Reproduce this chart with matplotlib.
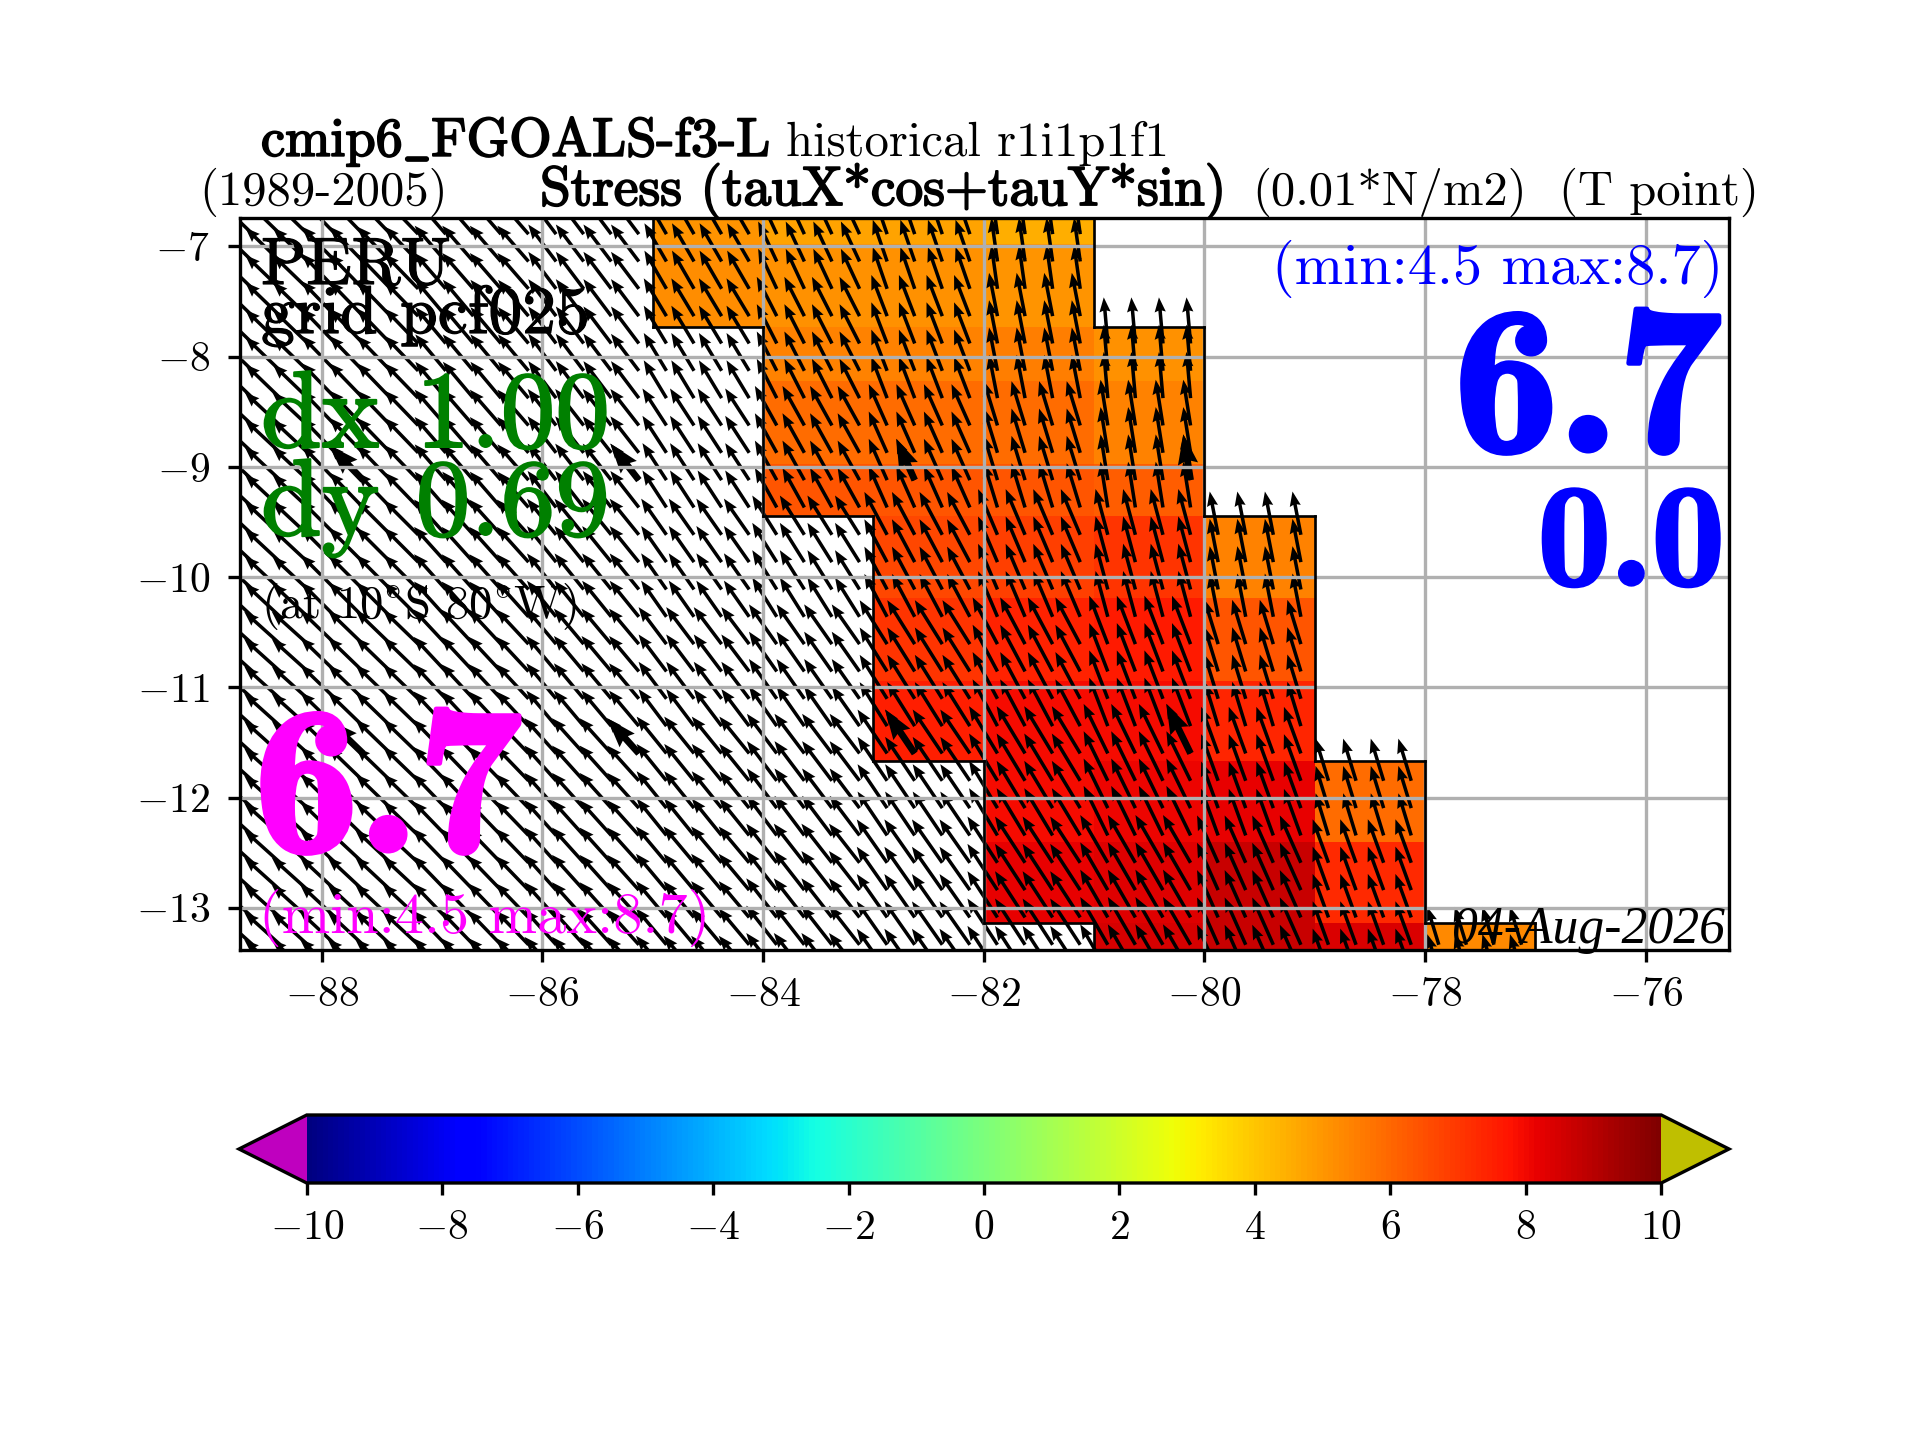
import numpy as np
import matplotlib
matplotlib.use("Agg")
import matplotlib.pyplot as plt
import matplotlib.patheffects as pe

plt.rcParams['font.family'] = ['cmr10', 'DejaVu Serif']
plt.rcParams['mathtext.fontset'] = 'cm'
plt.rcParams['axes.unicode_minus'] = False
plt.rcParams['axes.formatter.use_mathtext'] = True
plt.rcParams['axes.linewidth'] = 1.0
plt.rcParams['xtick.major.width'] = 1.0
plt.rcParams['ytick.major.width'] = 1.0

# shading cells (value in 0.01 N/m2); NaN = no data
col_edges = [-85, -84, -83, -82, -81, -80, -79, -78, -77]
row_edges = [-6.5, -6.98, -7.73, -8.22, -8.97, -9.45, -10.19, -10.94, -11.67, -12.40, -13.14, -13.6]
n = np.nan
stress = [
    [5.0, 4.7, 4.7, 4.5, n, n, n, n],
    [5.2, 5.1, 5.1, 5.0, n, n, n, n],
    [n, 5.45, 5.45, 5.5, 5.1, n, n, n],
    [n, 5.9, 5.9, 5.9, 5.45, n, n, n],
    [n, 6.4, 6.4, 6.4, 6.2, n, n, n],
    [n, n, 6.7, 6.8, 7.1, 5.4, n, n],
    [n, n, 7.1, 7.45, 7.6, 6.4, n, n],
    [n, n, 7.5, 7.9, 7.9, 7.4, n, n],
    [n, n, n, 7.95, 8.1, 8.2, 5.9, n],
    [n, n, n, 8.2, 8.3, 8.7, 7.3, n],
    [n, n, n, n, 8.45, 8.7, 8.4, 5.3],
]
# coast steps: top / bottom limit of the shaded part of each column
col_top = [-6.5, -6.5, -6.5, -6.5, -7.73, -9.45, -11.67, -13.14]
col_bottom = [-7.73, -9.45, -11.67, -13.14, -13.6, -13.6, -13.6, -13.6]

# arrow field: tilt west of north (degrees) and length (degrees), per 1-degree box
box_lon = [-89, -88, -87, -86, -85, -84, -83, -82, -81, -80, -79, -78, -77]
box_lat = [-6.0, -7.5, -8.5, -9.5, -10.5, -11.5, -12.5, -14.0]
tilt = [
    [46, 44, 41, 37, 30, 25, 19, 8, 4, n, n, n],
    [46, 44, 40, 37, 31, 27, 21, 11, 5, n, n, n],
    [47, 44, 41, 38, 33, 29, 24, 17, 9, n, n, n],
    [47, 45, 42, 39, 35, 32, 28, 23, 15, 11, n, n],
    [48, 46, 43, 40, 37, 35, 32, 28, 21, 17, n, n],
    [48, 46, 44, 42, 39, 37, 34, 31, 26, 20, 17, n],
    [48, 47, 44, 42, 40, 38, 35, 33, 30, 24, 20, 17],
]
length = [
    [.44, .44, .43, .42, .40, .40, .40, .40, .42, n, n, n],
    [.44, .44, .43, .42, .40, .40, .40, .40, .42, n, n, n],
    [.44, .44, .43, .42, .40, .41, .41, .42, .42, n, n, n],
    [.44, .44, .43, .42, .40, .42, .44, .45, .43, .40, n, n],
    [.44, .44, .43, .42, .42, .44, .47, .48, .47, .42, n, n],
    [.44, .44, .43, .43, .43, .45, .48, .50, .50, .45, .40, n],
    [.44, .44, .43, .43, .43, .45, .48, .50, .50, .47, .42, .36],
]

xtick_vals = [-88, -86, -84, -82, -80, -78, -76]
ytick_vals = [-13, -12, -11, -10, -9, -8, -7]
cbar_ticks = [-10, -8, -6, -4, -2, 0, 2, 4, 6, 8, 10]

W, H = 1920, 1440
fig = plt.figure(figsize=(8, 6), dpi=240)
ax = fig.add_axes([240 / W, 1 - 949.5 / H, (1729 - 240) / W, (949.5 - 217.5) / H])


def px(x, y):
    return x / W, 1 - y / H


cmap = plt.get_cmap('jet').copy()
cmap.set_under((0.75, 0, 0.75))
cmap.set_over((0.75, 0.75, 0))
mesh = ax.pcolormesh(col_edges, row_edges, np.ma.masked_invalid(np.array(stress)),
                     cmap=cmap, vmin=-10, vmax=10, shading='flat')

# arrow sample points (1/4 degree in lon, about 1/4 in lat)
lons = np.arange(-88.875, -76.9, 0.25)
lats = -7.88 - 0.248 * np.arange(-6, 24)
LON, LAT = np.meshgrid(lons, lats)
tilt_arr = np.array(tilt, float)
len_arr = np.array(length, float)
ii = np.clip(np.searchsorted(box_lon, LON, side='right') - 1, 0, 11)
jj = np.clip(np.searchsorted(-np.array(box_lat), -LAT, side='right') - 1, 0, 6)
T = np.radians(tilt_arr[jj, ii])
L = len_arr[jj, ii]
U = -L * np.sin(T)
V = L * np.cos(T)
ocean = np.ones_like(LON, bool)
for k, left in enumerate(col_edges[:-1]):
    in_col = (LON >= left) & (LON < left + 1)
    if k >= 4:
        ocean[in_col & (LAT > col_top[k])] = False
ok = ocean & np.isfinite(U)
ax.quiver(LON[ok], LAT[ok], U[ok], V[ok], angles='uv', scale_units='xy', scale=1,
          units='dots', width=3.5, headwidth=3.2, headlength=4.2, headaxislength=3.8,
          pivot='tail', color='k')
# every tenth arrow is drawn again, thicker
sub = np.zeros_like(ok)
sub[1::10, 5::10] = True
sub &= ok
sub[:, lons < -87.7] = False
ax.quiver(LON[sub], LAT[sub], U[sub], V[sub], angles='uv', scale_units='xy', scale=1,
          units='dots', width=6.8, headwidth=3, headlength=4.4, headaxislength=4,
          pivot='tail', color='k')

# coast outline, built from the column limits
for k, left in enumerate(col_edges[:-1]):
    right = col_edges[k + 1]
    ax.plot([left, right], [col_top[k]] * 2, 'k', lw=0.8, solid_capstyle='projecting')
    if k < 4:
        ax.plot([left, right], [col_bottom[k]] * 2, 'k', lw=0.8, solid_capstyle='projecting')
    next_top = col_top[k + 1] if k < 7 else -13.6
    ax.plot([right, right], [col_top[k], next_top], 'k', lw=0.8)
    if k == 0:
        ax.plot([left, left], [col_top[k], col_bottom[k]], 'k', lw=0.8)
    if k < 4:
        ax.plot([right, right], [col_bottom[k], col_bottom[k + 1]], 'k', lw=0.8)

ax.set_xlim(-88.74, -75.245)
ax.set_ylim(-13.379, -6.737)
ax.grid(True, lw=1.0)
ax.set_xticks(xtick_vals, [f'$-{abs(v)}$' for v in xtick_vals])
ax.set_yticks(ytick_vals, [f'$-{abs(v)}$' for v in ytick_vals])
ax.tick_params(axis='x', labelsize=12.5, pad=4.5)
ax.tick_params(axis='y', labelsize=12.5, pad=5.5)

# colour bar
cax = fig.add_axes([239 / W, 1 - 1183 / H, (1729 - 239) / W, 68 / H])
cb = fig.colorbar(mesh, cax=cax, orientation='horizontal', extend='both')
cb.set_ticks(cbar_ticks, labels=[f'$-{abs(v)}$' if v < 0 else f'${v}$' for v in cbar_ticks])
cb.ax.tick_params(labelsize=12.5, pad=4.5, width=1.0)
cb.outline.set_linewidth(1.0)


def label(x, y, s, size, color='k', ha='left', family=None, style=None, stroke=0):
    kw = {}
    if family:
        kw['family'] = family
    if style:
        kw['style'] = style
    t = fig.text(*px(x, y), s, fontsize=size, color=color, ha=ha, va='baseline', zorder=10, **kw)
    if stroke:
        t.set_path_effects([pe.withStroke(linewidth=stroke, foreground=color)])


# titles
label(261, 156, r'cmip6$\_$FGOALS-f3-L', 16.3, stroke=0.55)
label(786, 156, 'historical r1i1p1f1', 14.6)
label(199, 205, '(1989-2005)', 14.6)
label(540, 205, 'Stress (tauX*cos+tauY*sin)', 16.6, stroke=0.55)
label(1252, 205, '(0.01*N/m2)', 14.6)
label(1559, 205, '(T point)', 14.6)

# annotations in the map
label(261, 284, 'PERU', 20, stroke=0.35)
label(261, 333, 'grid pcf025', 20.3, stroke=0.35)
label(261, 447, 'dx 1.00', 32.8, color='green', stroke=0.6)
label(261, 535, 'dy 0.69', 32.8, color='green', stroke=0.6)
label(261, 618, r'(at 10$^{\circ}$S 80$^{\circ}$W)', 14)
label(254, 851, '6.7', 63, color='magenta', family='cmb10', stroke=1.5)
label(259, 933, '(min:4.5 max:8.7)', 17.5, color='magenta')
label(1723, 284, '(min:4.5 max:8.7)', 17.5, color='blue', ha='right')
label(1722, 451, '6.7', 63, color='blue', ha='right', family='cmb10', stroke=1.5)
label(1725, 585, '0.0', 44, color='blue', ha='right', family='cmb10', stroke=1)
label(1725, 943, '04-Aug-2026', 15.5, ha='right', family='Liberation Serif', style='italic')

fig.savefig('out.png', dpi=240)
